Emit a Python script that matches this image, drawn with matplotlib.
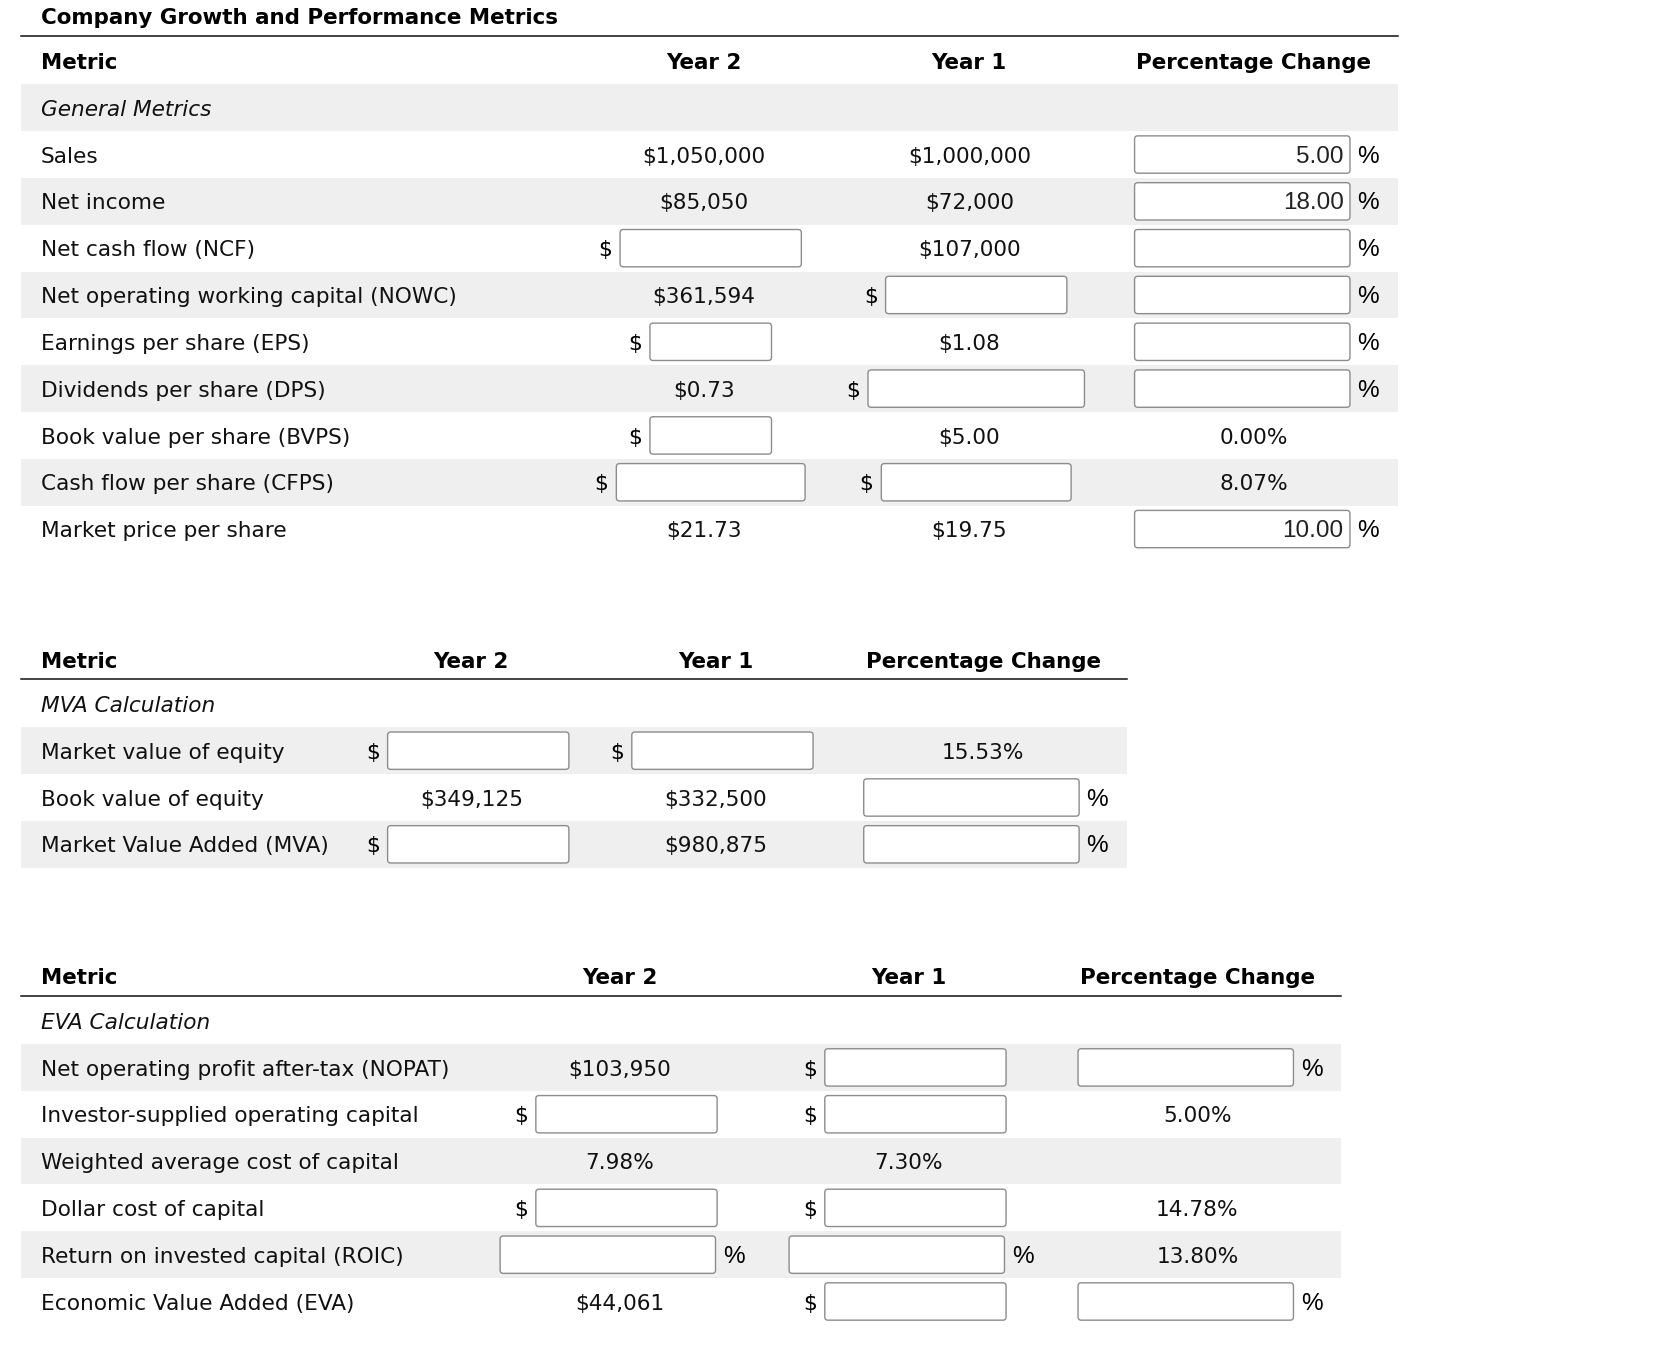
import matplotlib
matplotlib.use("Agg")
import matplotlib.pyplot as plt
from matplotlib.patches import Rectangle, FancyBboxPatch

plt.rcParams['font.family'] = ['DejaVu Sans']

# ---- data ----
# None          -> empty "$" input box
# ("%", text)   -> input box with "%" after it, holding text (may be empty)
# ""            -> blank cell
# other strings -> plain text
BOX = None

title = "Company Growth and Performance Metrics"
headers = ["Metric", "Year 2", "Year 1", "Percentage Change"]

gen_section = "General Metrics"
gen_metrics = ["Sales", "Net income", "Net cash flow (NCF)",
               "Net operating working capital (NOWC)", "Earnings per share (EPS)",
               "Dividends per share (DPS)", "Book value per share (BVPS)",
               "Cash flow per share (CFPS)", "Market price per share"]
gen_year2 = ["$1,050,000", "$85,050", BOX, "$361,594", BOX, "$0.73", BOX, BOX, "$21.73"]
gen_year1 = ["$1,000,000", "$72,000", "$107,000", BOX, "$1.08", BOX, "$5.00", BOX, "$19.75"]
gen_pct = [("%", "5.00"), ("%", "18.00"), ("%", ""), ("%", ""), ("%", ""), ("%", ""),
           "0.00%", "8.07%", ("%", "10.00")]

mva_section = "MVA Calculation"
mva_metrics = ["Market value of equity", "Book value of equity", "Market Value Added (MVA)"]
mva_year2 = [BOX, "$349,125", BOX]
mva_year1 = [BOX, "$332,500", "$980,875"]
mva_pct = ["15.53%", ("%", ""), ("%", "")]

eva_section = "EVA Calculation"
eva_metrics = ["Net operating profit after-tax (NOPAT)", "Investor-supplied operating capital",
               "Weighted average cost of capital", "Dollar cost of capital",
               "Return on invested capital (ROIC)", "Economic Value Added (EVA)"]
eva_year2 = ["$103,950", BOX, "7.98%", BOX, ("%", ""), "$44,061"]
eva_year1 = [BOX, BOX, "7.30%", BOX, ("%", ""), BOX]
eva_pct = [("%", ""), "5.00%", "", "14.78%", "13.80%", ("%", "")]

# ---- layout (units = reference pixels, 1568 x 1279) ----
W, H = 1568, 1279
ROW_H = 43.9
BOX_H = 35
LEFT = 20
LABEL_X = 38
FS = 15.6
FS_B = 15.4
FS_IN = 17.5
DY = 2
SHADE = '#efefef'

tables = [
    dict(section=gen_section, metrics=gen_metrics, cols=[gen_year2, gen_year1, gen_pct],
         header_y=57, line_y=34, section_y=101, right=1311, cx=[660, 909, 1176],
         shade_first=True, widths={(4, 0): 114, (6, 0): 114, (7, 0): 177,
                                   (7, 1): 178, (5, 1): 203}),
    dict(section=mva_section, metrics=mva_metrics, cols=[mva_year2, mva_year1, mva_pct],
         header_y=619, line_y=637, section_y=660, right=1057, cx=[442, 671, 922],
         shade_first=False, widths={}),
    dict(section=eva_section, metrics=eva_metrics, cols=[eva_year2, eva_year1, eva_pct],
         header_y=915, line_y=934, section_y=957, right=1258, cx=[581, 852, 1123],
         shade_first=False, widths={}),
]

fig = plt.figure(figsize=(16.72, 13.64), dpi=100)
ax = fig.add_axes([0, 0, 1, 1])
ax.set_xlim(0, W)
ax.set_ylim(H, 0)
ax.axis('off')


def input_box(x0, y, w, val=""):
    ax.add_patch(FancyBboxPatch((x0, y - BOX_H / 2), w, BOX_H,
                                boxstyle="round,pad=0,rounding_size=3",
                                fc='white', ec='#8c8c8c', lw=1.0, zorder=2))
    if val:
        ax.text(x0 + w - 6, y + DY, val, ha='right', va='center', fontsize=FS_IN,
                family='Liberation Sans', color='#222222', zorder=3)


ax.text(LABEL_X, 15 + DY, title, fontsize=FS_B, fontweight='bold', va='center', ha='left')

for t in tables:
    ax.plot([LEFT, t['right']], [t['line_y'], t['line_y']], color='#111111', lw=1.1)
    ax.text(LABEL_X, t['header_y'] + DY, headers[0], fontsize=FS_B, fontweight='bold',
            va='center')
    for cx, h in zip(t['cx'], headers[1:]):
        ax.text(cx, t['header_y'] + DY, h, fontsize=FS_B, fontweight='bold',
                va='center', ha='center')

    rows = [t['section']] + t['metrics']
    for i, label in enumerate(rows):
        y = t['section_y'] + i * ROW_H
        shaded = (i % 2 == 0) == t['shade_first']
        if shaded:
            ax.add_patch(Rectangle((LEFT, y - ROW_H / 2), t['right'] - LEFT, ROW_H,
                                   fc=SHADE, ec='none', zorder=0))
        ax.text(LABEL_X, y + DY, label, fontsize=FS, va='center', ha='left',
                style='italic' if i == 0 else 'normal', color='#111111')
        if i == 0:
            continue
        r = i - 1
        for c, (cx, col) in enumerate(zip(t['cx'], t['cols'])):
            v = col[r]
            if v is None:
                w = t['widths'].get((r, c), 170)
                x0 = cx - 3 - (19 + w) / 2 + 19
                ax.text(x0 - 14, y + DY, "$", fontsize=FS, va='center', ha='center')
                input_box(x0, y, w)
            elif isinstance(v, tuple):
                w = 202
                x0 = cx + 1 - (w + 24) / 2
                input_box(x0, y, w, v[1])
                ax.text(x0 + w + 17, y + DY, v[0], fontsize=FS_IN, family='Liberation Sans',
                        va='center', ha='center')
            elif v:
                ax.text(cx, y + DY, v, fontsize=FS, va='center', ha='center', color='#111111')

fig.savefig("out.png", dpi=100, facecolor='white')
